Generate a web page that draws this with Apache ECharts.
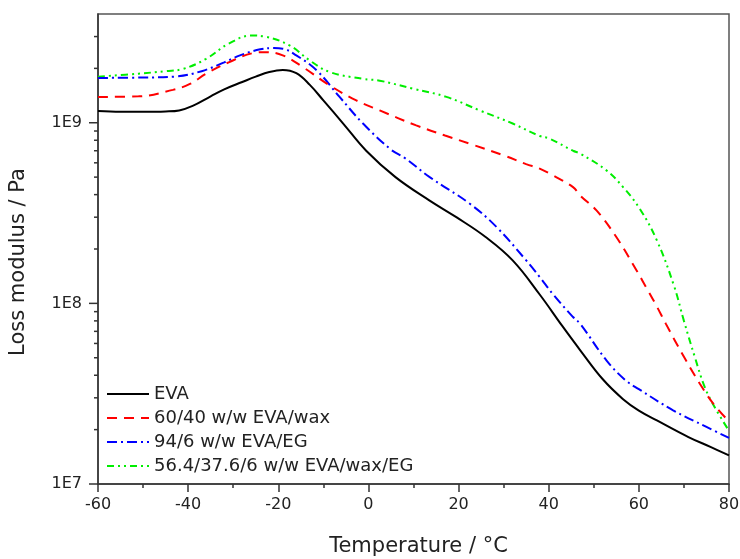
<!DOCTYPE html>
<html><head><meta charset="utf-8">
<script src="https://cdn.jsdelivr.net/npm/echarts@6/dist/echarts.min.js"></script>
<style>html,body{margin:0;padding:0;background:#fff}#c{width:740px;height:559px}</style>
</head><body><div id="c"></div>
<script>
// ---- data ----
const seriesNames = ['EVA', '60/40 w/w EVA/wax', '94/6 w/w EVA/EG', '56.4/37.6/6 w/w EVA/wax/EG'];

const evaT = [-60, -55, -50, -45, -42, -39, -35, -32, -28, -25, -22, -19, -16, -13, -10, -5.6, -0.5, 6, 13.5, 19.5, 26, 32, 38, 43, 47, 52, 56.5, 60, 64, 71, 76, 80];
const evaG = [1.16e9, 1.15e9, 1.15e9, 1.155e9, 1.17e9, 1.24e9, 1.40e9, 1.53e9, 1.68e9, 1.80e9, 1.91e9, 1.96e9, 1.88e9, 1.62e9, 1.33e9, 9.9e8, 7.0e8, 5.0e8, 3.72e8, 3.0e8, 2.33e8, 1.73e8, 1.12e8, 7.5e7, 5.5e7, 3.8e7, 2.95e7, 2.55e7, 2.25e7, 1.82e7, 1.6e7, 1.44e7];

const waxT = [-60, -51, -43.4, -39.6, -36, -31, -25.6, -23, -19, -14.5, -8.6, -2.7, 2.5, 10.6, 17, 22.5, 30, 35, 38, 41, 45.4, 47, 50.6, 55, 59.5, 62, 64, 66, 70, 73.5, 76.5, 80];
const waxG = [1.39e9, 1.40e9, 1.52e9, 1.64e9, 1.87e9, 2.16e9, 2.43e9, 2.46e9, 2.36e9, 2.03e9, 1.61e9, 1.33e9, 1.17e9, 9.67e8, 8.5e8, 7.65e8, 6.6e8, 5.9e8, 5.57e8, 5.1e8, 4.4e8, 3.95e8, 3.27e8, 2.33e8, 1.52e8, 1.18e8, 9.6e7, 7.7e7, 5.06e7, 3.6e7, 2.79e7, 2.22e7];

const egT = [-60, -50, -43, -37, -32, -28.5, -24, -21, -19, -16, -11.5, -6.4, -1.2, 5, 8, 13.6, 22.5, 28.4, 35, 38, 41, 45.4, 47, 52.8, 57, 60, 67.6, 75, 80];
const egG = [1.77e9, 1.78e9, 1.80e9, 1.93e9, 2.16e9, 2.36e9, 2.55e9, 2.59e9, 2.57e9, 2.36e9, 1.95e9, 1.39e9, 9.9e8, 7.1e8, 6.4e8, 5.0e8, 3.56e8, 2.65e8, 1.73e8, 1.4e8, 1.12e8, 8.4e7, 7.7e7, 4.84e7, 3.76e7, 3.35e7, 2.56e7, 2.07e7, 1.8e7];

const waxEgT = [-60, -51, -45, -41, -36, -31, -26, -23, -17.5, -13, -8.6, -1.2, 2.5, 10, 17.3, 24.7, 32, 38, 40, 45.4, 47, 52.8, 56.5, 60.2, 64, 67.8, 70, 72.4, 74.6, 76.8, 80];
const waxEgG = [1.80e9, 1.87e9, 1.93e9, 1.99e9, 2.26e9, 2.74e9, 3.04e9, 3.0e9, 2.68e9, 2.21e9, 1.91e9, 1.75e9, 1.71e9, 1.54e9, 1.39e9, 1.17e9, 9.9e8, 8.45e8, 8.2e8, 7.0e8, 6.74e8, 5.45e8, 4.4e8, 3.34e8, 2.23e8, 1.25e8, 8.0e7, 5.06e7, 3.45e7, 2.67e7, 1.97e7];

const xTicks = [-60, -40, -20, 0, 20, 40, 60, 80];
const yMajorTicks = [1e7, 1e8, 1e9];
const yMajorLabels = ['1E7', '1E8', '1E9'];
const yMinorTicks = [2e7, 3e7, 4e7, 5e7, 6e7, 7e7, 8e7, 9e7, 2e8, 3e8, 4e8, 5e8, 6e8, 7e8, 8e8, 9e8, 2e9, 3e9];

// ---- chart ----
const FONT = 'DejaVu Sans';
const pairs = (t, g) => t.map((v, i) => [v, g[i]]);
const colors = ['#000000', '#ff0000', '#0000ff', '#00ee00'];
const dashes = ['solid', [10, 7], [10, 4, 2, 4], [7, 4, 2, 4, 2, 4]];
const datasets = [pairs(evaT, evaG), pairs(waxT, waxG), pairs(egT, egG), pairs(waxEgT, waxEgG)];

const lineSeries = seriesNames.map((n, i) => ({
  name: n, type: 'line', data: datasets[i], symbol: 'none', smooth: 0.4,
  color: colors[i],
  lineStyle: { color: colors[i], width: 2, type: dashes[i] },
  z: 5 - i, silent: true
}));

function tickSeries(values, len) {
  return {
    type: 'custom', silent: true, clip: false, z: 10,
    data: values.map(v => [xTicks[0], v]),
    renderItem: (params, api) => {
      const p = api.coord([api.value(0), api.value(1)]);
      return { type: 'line', shape: { x1: p[0] - len, y1: p[1], x2: p[0], y2: p[1] },
               style: { stroke: '#333', lineWidth: 1.5 } };
    }
  };
}

const chart = echarts.init(document.getElementById('c'), null, { renderer: 'canvas' });
chart.setOption({
  animation: false,
  backgroundColor: '#fff',
  grid: { left: 98, right: 11, top: 14, bottom: 75, outerBoundsMode: 'none', containLabel: false,
          show: true, borderColor: '#555', borderWidth: 1.5, backgroundColor: 'transparent' },
  legend: {
    orient: 'vertical', left: 106, top: 385, padding: 0, itemGap: 6,
    itemWidth: 42, itemHeight: 14,
    itemStyle: { color: 'transparent', borderColor: 'transparent', borderWidth: 0, opacity: 0 },
    textStyle: { fontSize: 18, fontFamily: FONT, color: '#222' },
    data: seriesNames
  },
  xAxis: {
    type: 'value', min: xTicks[0], max: xTicks[xTicks.length - 1], interval: 20,
    name: 'Temperature / °C', nameLocation: 'middle', nameGap: 52,
    nameTextStyle: { fontSize: 21, fontFamily: FONT, color: '#222', padding: [0, 0, 0, 10] },
    axisLine: { onZero: false, lineStyle: { color: '#333', width: 1.5 } },
    axisTick: { length: 8, lineStyle: { color: '#333', width: 1.5 } },
    minorTick: { show: true, splitNumber: 2, length: 4, lineStyle: { color: '#333', width: 1.5 } },
    axisLabel: { fontSize: 16, fontFamily: FONT, color: '#222', margin: 13 },
    splitLine: { show: false }
  },
  yAxis: {
    type: 'log', logBase: 10, min: yMajorTicks[0], max: 4e9,
    name: 'Loss modulus / Pa', nameLocation: 'middle', nameGap: 69,
    nameTextStyle: { fontSize: 21, fontFamily: FONT, color: '#222', padding: [0, 26, 0, 0] },
    axisLine: { onZero: false, lineStyle: { color: '#333', width: 1.5 } },
    axisTick: { show: false },
    axisLabel: {
      fontSize: 16, fontFamily: FONT, color: '#222', margin: 16,
      formatter: v => { const i = yMajorTicks.findIndex(t => Math.abs(t - v) / t < 1e-6); return i >= 0 ? yMajorLabels[i] : ''; }
    },
    splitLine: { show: false }
  },
  series: lineSeries.concat([tickSeries(yMajorTicks, 9), tickSeries(yMinorTicks, 4)])
});
</script></body></html>
